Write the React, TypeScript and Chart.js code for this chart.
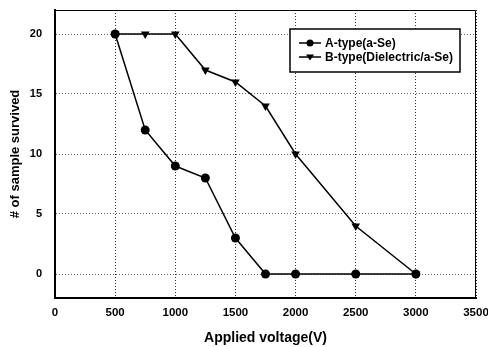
import React, { useEffect, useRef } from "react";
import { Chart, registerables } from "chart.js";
Chart.register(...registerables);

const voltages = [500, 750, 1000, 1250, 1500, 1750, 2000, 2500, 3000];
const seriesA = [20, 12, 9, 8, 3, 0, 0, 0, 0];
const seriesB = [20, 20, 20, 17, 16, 14, 10, 4, 0];
const yTicks = [0, 5, 10, 15, 20];
const labelA = "A-type(a-Se)";
const labelB = "B-type(Dielectric/a-Se)";
const xTitle = "Applied voltage(V)";
const yTitle = "# of sample survived";

const FONT = "'Liberation Sans', Arial, sans-serif";

const legendPlugin = {
  id: "customLegend",
  afterDraw(chart: any) {
    const ctx = chart.ctx;
    const area = chart.chartArea;
    ctx.save();
    ctx.strokeStyle = "#000";
    ctx.lineWidth = 1;
    ctx.beginPath();
    ctx.moveTo(area.left, area.top + 0.5);
    ctx.lineTo(area.right - 0.5, area.top + 0.5);
    ctx.lineTo(area.right - 0.5, area.bottom);
    ctx.stroke();
    const bx = 290, by = 29, bw = 170, bh = 43;
    ctx.fillStyle = "#fff";
    ctx.fillRect(bx, by, bw, bh);
    ctx.lineWidth = 1.5;
    ctx.strokeRect(bx, by, bw, bh);
    const rows = [
      { y: 43, label: labelA, shape: "circle" },
      { y: 57, label: labelB, shape: "tri" },
    ];
    ctx.font = "bold 12px " + FONT;
    ctx.textBaseline = "middle";
    for (const r of rows) {
      ctx.strokeStyle = "#000";
      ctx.lineWidth = 1.5;
      ctx.beginPath();
      ctx.moveTo(299, r.y);
      ctx.lineTo(321, r.y);
      ctx.stroke();
      ctx.fillStyle = "#000";
      if (r.shape === "circle") {
        ctx.beginPath();
        ctx.arc(310, r.y, 3.5, 0, Math.PI * 2);
        ctx.fill();
      } else {
        ctx.beginPath();
        ctx.moveTo(306, r.y - 2.5);
        ctx.lineTo(314, r.y - 2.5);
        ctx.lineTo(310, r.y + 3.5);
        ctx.closePath();
        ctx.fill();
      }
      ctx.fillText(r.label, 325, r.y + 0.5);
    }
    ctx.restore();
  },
};

export default function App() {
  const ref = useRef<HTMLCanvasElement>(null);
  useEffect(() => {
    document.body.style.margin = "0";
    const canvas = ref.current!;
    const chart = new Chart(canvas, {
      type: "line",
      data: {
        datasets: [
          {
            label: labelA,
            data: voltages.map((v, i) => ({ x: v, y: seriesA[i] })),
            borderColor: "#000",
            backgroundColor: "#000",
            borderWidth: 1.5,
            pointStyle: "circle",
            pointRadius: 4.5,
            pointBorderWidth: 0,
          },
          {
            label: labelB,
            data: voltages.map((v, i) => ({ x: v, y: seriesB[i] })),
            borderColor: "#000",
            backgroundColor: "#000",
            borderWidth: 1.5,
            pointStyle: "triangle",
            pointRotation: 180,
            pointRadius: 5,
            pointBorderWidth: 0,
          },
        ],
      },
      options: {
        animation: false,
        responsive: false,
        devicePixelRatio: 1,
        layout: { padding: { top: 10, right: 12, left: 0, bottom: 0 } },
        plugins: { legend: { display: false }, tooltip: { enabled: false } },
        scales: {
          x: {
            type: "linear",
            min: 0,
            max: 3500,
            afterFit(s: any) {
              s.height = 49;
              s.paddingLeft = 0;
              s.paddingRight = 0;
            },
            ticks: {
              stepSize: 500,
              color: "#000",
              font: { family: FONT, size: 11.5, weight: "bold" },
              padding: 8,
              callback: (v: any) => String(v),
            },
            grid: { color: "#333", drawTicks: false, lineWidth: 1 },
            border: { color: "#000", width: 2, dash: [1, 2] },
            title: {
              display: true,
              text: xTitle,
              color: "#000",
              font: { family: FONT, size: 14, weight: "bold" },
              padding: { top: 8, bottom: 0 },
            },
          },
          y: {
            min: -2,
            max: 22,
            afterFit(s: any) {
              s.width = 55;
              s.paddingTop = 0;
              s.paddingBottom = 0;
            },
            afterBuildTicks(s: any) {
              s.ticks = yTicks.map((v) => ({ value: v }));
            },
            ticks: {
              color: "#000",
              font: { family: FONT, size: 11, weight: "bold" },
              padding: 13,
            },
            grid: { color: "#666", drawTicks: false, lineWidth: 1 },
            border: { color: "#000", width: 2, dash: [1, 2] },
            title: {
              display: true,
              text: yTitle,
              color: "#000",
              font: { family: FONT, size: 13, weight: "bold" },
              padding: { top: 8, bottom: 0 },
            },
          },
        },
      },
      plugins: [legendPlugin],
    } as any);
    return () => chart.destroy();
  }, []);
  return (
    <div style={{ position: "absolute", left: 0, top: 0, width: 488, height: 347, background: "#fff" }}>
      <canvas ref={ref} width={488} height={347} style={{ width: 488, height: 347 }} />
    </div>
  );
}
